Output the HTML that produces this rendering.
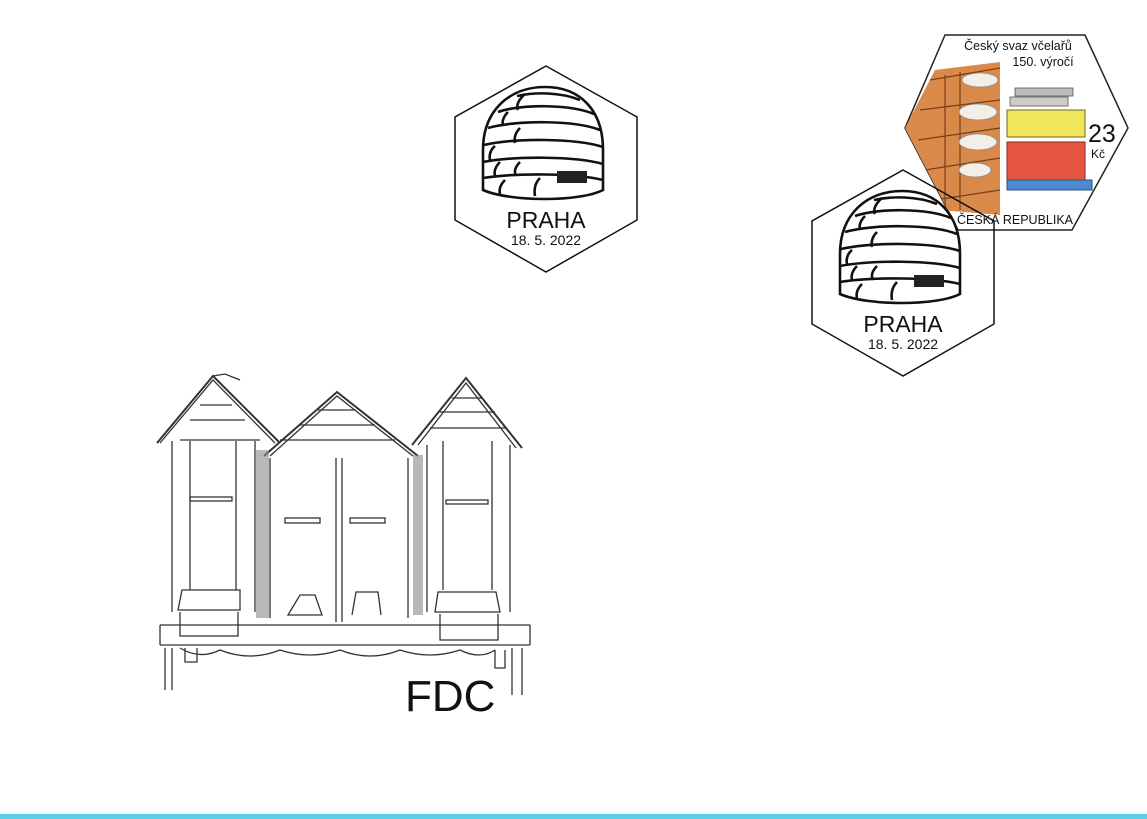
<!DOCTYPE html>
<html><head><meta charset="utf-8"><style>
html,body{margin:0;padding:0;background:#fff}
svg{display:block}
text{font-family:"Liberation Sans","DejaVu Sans",sans-serif}
</style></head><body>
<svg width="1147" height="819" viewBox="0 0 1147 819" xmlns="http://www.w3.org/2000/svg">
<rect width="1147" height="819" fill="#fff"/>
<defs>
<g id="pm">
  <polygon points="546,66 637,117 637,220 546,272 455,220 455,117" fill="none" stroke="#111" stroke-width="1.5"/>
  <g fill="none" stroke="#111" stroke-width="2.6">
    <path d="M483,190 L483,150 C483,110 510,87 545,87 C580,87 603,110 603,150 L603,190 C580,202 510,202 483,190 Z" fill="#fff"/>
    <path d="M517,96 C535,92 560,92 580,100"/>
    <path d="M498,112 C520,104 570,104 594,114"/>
    <path d="M488,128 C515,120 575,120 600,130"/>
    <path d="M484,145 C515,138 575,138 603,147"/>
    <path d="M483,162 C515,156 575,156 603,164"/>
    <path d="M483,178 C515,173 575,173 603,180"/>
    <path d="M525,94 C518,100 516,106 518,110"/>
    <path d="M508,112 C503,117 502,122 503,126"/>
    <path d="M520,128 C515,133 514,138 515,143"/>
    <path d="M495,146 C490,150 489,156 490,160"/>
    <path d="M500,162 C495,167 494,172 495,176"/>
    <path d="M520,162 C515,167 514,172 516,176"/>
    <path d="M505,180 C500,185 499,190 500,194"/>
    <path d="M540,178 C535,183 534,190 535,196"/>
  </g>
  <rect x="557" y="171" width="30" height="12" fill="#222"/>
  <text x="546" y="228" font-size="23" text-anchor="middle" fill="#111">PRAHA</text>
  <text x="546" y="245" font-size="14" text-anchor="middle" fill="#111">18. 5. 2022</text>
</g>
</defs>

<!-- stamp -->
<g>
  <polygon points="945,35 1085,35 1128,128 1072,230 958,230 905,128" fill="#fff" stroke="#222" stroke-width="1.5"/>
  <clipPath id="sc"><polygon points="945,35 1085,35 1128,128 1072,230 958,230 905,128"/></clipPath>
  <g clip-path="url(#sc)">
    <path d="M905,128 L935,70 L1000,62 L1000,215 L940,210 Z" fill="#d98a4a"/>
    <g fill="none" stroke="#7a3d1a" stroke-width="1.2">
      <path d="M930,80 L1000,68 M920,110 L1000,100 M918,140 L1000,128 M925,170 L1000,158 M935,200 L1000,190"/>
      <path d="M945,75 L945,210 M960,72 L960,210"/>
    </g>
    <g fill="#f4efe6" stroke="#888" stroke-width=".8">
      <ellipse cx="980" cy="80" rx="18" ry="7"/>
      <ellipse cx="978" cy="112" rx="19" ry="8"/>
      <ellipse cx="978" cy="142" rx="19" ry="8"/>
      <ellipse cx="975" cy="170" rx="16" ry="7"/>
    </g>
    <rect x="1015" y="88" width="58" height="8" fill="#bbb" stroke="#555" stroke-width=".8"/>
    <rect x="1010" y="97" width="58" height="9" fill="#ccc" stroke="#555" stroke-width=".8"/>
    <rect x="1007" y="110" width="78" height="27" fill="#efe65a" stroke="#6a6a20" stroke-width="1"/>
    <rect x="1007" y="142" width="78" height="38" fill="#e5543f" stroke="#8a2a20" stroke-width="1"/>
    <rect x="1007" y="180" width="85" height="10" fill="#4f8ad0" stroke="#2a4f80" stroke-width="1"/>
  </g>
  <text x="1018" y="50" font-size="12.5" text-anchor="middle" fill="#111">Český svaz včelařů</text>
  <text x="1043" y="66" font-size="12.5" text-anchor="middle" fill="#111">150. výročí</text>
  <text x="1088" y="142" font-size="25" fill="#111">23</text>
  <text x="1091" y="158" font-size="12" fill="#111">Kč</text>
  <text x="1015" y="224" font-size="12.5" text-anchor="middle" fill="#111">ČESKÁ REPUBLIKA</text>
</g>

<use href="#pm"/>
<use href="#pm" transform="translate(357,104)"/>

<!-- beehive drawing -->
<g fill="none" stroke="#333" stroke-width="1.3">
  <!-- left house -->
  <path d="M157,443 L213,376 L280,443" stroke-width="2"/>
  <path d="M160,443 L213,380 L275,443"/>
  <path d="M213,376 L225,374 L240,380"/>
  <path d="M172,441 L172,612 M255,441 L255,612 M190,441 L190,590 M236,441 L236,590"/>
  <path d="M180,440 L260,440 M190,420 L245,420 M200,405 L232,405"/>
  <rect x="190" y="497" width="42" height="4"/>
  <!-- middle house -->
  <path d="M264,456 L337,392 L418,456" stroke-width="2"/>
  <path d="M270,456 L337,396 L413,456"/>
  <path d="M270,458 L270,618 M408,458 L408,618 M336,458 L336,622 M342,458 L342,622"/>
  <path d="M280,440 L395,440 M300,425 L375,425 M318,410 L355,410"/>
  <rect x="285" y="518" width="35" height="5"/>
  <rect x="350" y="518" width="35" height="5"/>
  <path d="M288,615 L300,595 L315,595 L322,615 Z M352,615 L356,592 L378,592 L381,615"/>
  <!-- right house -->
  <path d="M412,445 L466,378 L522,448" stroke-width="2"/>
  <path d="M418,445 L466,383 L516,448"/>
  <path d="M427,445 L427,612 M510,445 L510,612 M443,441 L443,590 M492,441 L492,590"/>
  <path d="M430,428 L505,428 M440,412 L495,412 M452,398 L482,398"/>
  <rect x="446" y="500" width="42" height="4"/>
  <!-- shaded gaps -->
  <rect x="256" y="450" width="13" height="168" fill="#888" stroke="none" opacity=".6"/>
  <rect x="413" y="455" width="10" height="160" fill="#888" stroke="none" opacity=".6"/>
  <!-- small boxes -->
  <path d="M178,610 L182,590 L240,590 L240,610 Z M180,612 L180,636 L238,636 L238,612"/>
  <path d="M435,612 L438,592 L496,592 L500,612 Z M440,614 L440,640 L498,640 L498,614"/>
  <!-- bench -->
  <path d="M160,625 L530,625 M160,645 L530,645 M160,625 L160,645 M530,625 L530,645"/>
  <path d="M165,648 L165,690 M172,648 L172,690 M185,648 L185,662 L197,662 L197,648"/>
  <path d="M512,648 L512,695 M522,648 L522,695 M495,650 L495,668 L505,668 L505,650"/>
  <path d="M180,648 Q200,660 220,650 Q250,662 280,650 Q310,660 340,650 Q370,662 400,650 Q430,660 460,650 Q480,660 495,650"/>
</g>
<text x="405" y="711" font-size="44" fill="#111">FDC</text>

<rect x="0" y="814" width="1147" height="5" fill="#5ccfe8"/>
</svg>
</body></html>
